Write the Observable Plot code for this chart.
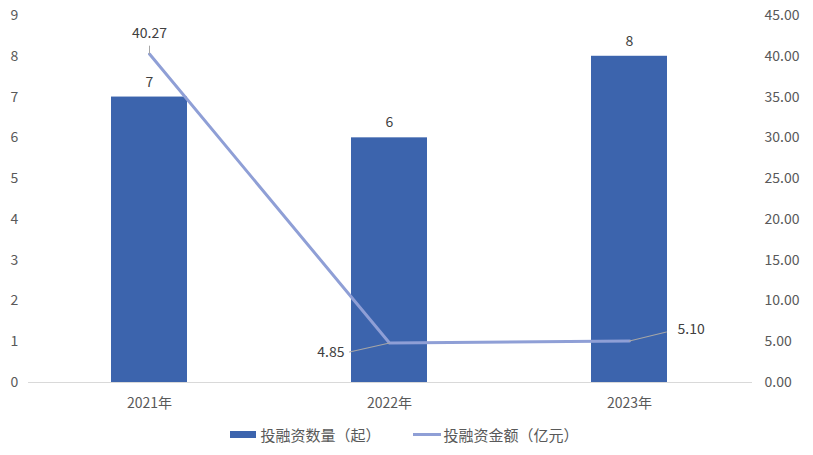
<!DOCTYPE html>
<html><head><meta charset="utf-8">
<script src="https://cdn.jsdelivr.net/npm/d3@7"></script>
<script src="https://cdn.jsdelivr.net/npm/@observablehq/plot@0.6"></script>
<style>
body{margin:0;background:#fff;font-family:"Noto Sans CJK SC","Noto Sans",sans-serif;}
#chart svg{display:block;}
#legend{display:flex;justify-content:center;align-items:center;font-size:15px;color:#595959;margin-top:4px;padding-right:4px;}
.item{display:flex;align-items:center;margin:0 16px;}
</style></head>
<body><div id="chart"></div>
<div id="legend">
<div class="item"><span style="display:inline-block;width:26px;height:7px;background:#3C64AD;margin-right:4px"></span>投融资数量（起）</div>
<div class="item"><span style="display:inline-block;width:28px;height:3px;background:#8F9FD6;margin-right:3px"></span>投融资金额（亿元）</div>
</div>
<script>
const years = ["2021年","2022年","2023年"];
const counts = [7, 6, 8];
const amounts = [40.27, 4.85, 5.10];
const leftTicks = [0,1,2,3,4,5,6,7,8,9];
const rightTicks = [0,5,10,15,20,25,30,35,40,45];
const ratio = 5; // right-axis units per left-axis unit

const bars = years.map((y,i)=>({year:y, count:counts[i]}));
const line = years.map((y,i)=>({year:y, amt:amounts[i], v:amounts[i]/ratio}));
const labelCfg = [
  {len:8, rot:0, dx:0, dy:-21, anchor:"middle"},
  {len:41, rot:-102.7, dx:-45, dy:10, anchor:"end"},
  {len:38, rot:76.3, dx:48, dy:-11, anchor:"start"}
];
const lab = line.map((d,i)=>({...d, ...labelCfg[i]}));
const noHead = {draw(ctx, l){ctx.moveTo(0,0); ctx.lineTo(0,-l);}};

const chart = Plot.plot({
  width: 813, height: 420,
  marginLeft: 28, marginRight: 63, marginTop: 15, marginBottom: 38,
  style:{fontFamily:'"Noto Sans CJK SC","Noto Sans",sans-serif', fontSize:"14px", color:"#595959"},
  x:{domain:years, paddingInner:0.684, paddingOuter:0.346, label:null},
  y:{domain:[0,9], label:null},
  marks:[
    Plot.axisY(leftTicks, {anchor:"left", tickSize:0, tickPadding:0, dx:-14, textAnchor:"middle", fontSize:14, label:null, fill:"#595959"}),
    Plot.axisY(rightTicks.map(d=>d/ratio), {anchor:"right", tickSize:0, tickPadding:14, tickFormat:d=>(d*ratio).toFixed(2), fontSize:14, label:null, fill:"#595959"}),
    Plot.axisX({tickSize:0, tickPadding:16, fontSize:14, label:null, fill:"#595959"}),
    Plot.barY(bars, {x:"year", y:"count", fill:"#3C64AD"}),
    Plot.ruleY([0], {stroke:"#D9D9D9", strokeWidth:1, insetRight:-2}),
    Plot.text(bars, {x:"year", y:"count", text:d=>String(d.count), dy:-15, fontSize:14, fill:"#404040"}),
    Plot.line(line, {x:"year", y:"v", stroke:"#8F9FD6", strokeWidth:3}),
    ...lab.map(d=>Plot.vector([d], {x:"year", y:"v", length:{value:d.len, scale:null}, rotate:d.rot, shape:noHead, anchor:"start", stroke:"#A6A6A6", strokeWidth:1})),
    ...lab.map(d=>Plot.text([d], {x:"year", y:"v", text:d=>d.amt.toFixed(2), dx:d.dx, dy:d.dy, textAnchor:d.anchor, fontSize:14, fill:"#404040"}))
  ]
});
document.getElementById("chart").appendChild(chart);
</script>
</body></html>
